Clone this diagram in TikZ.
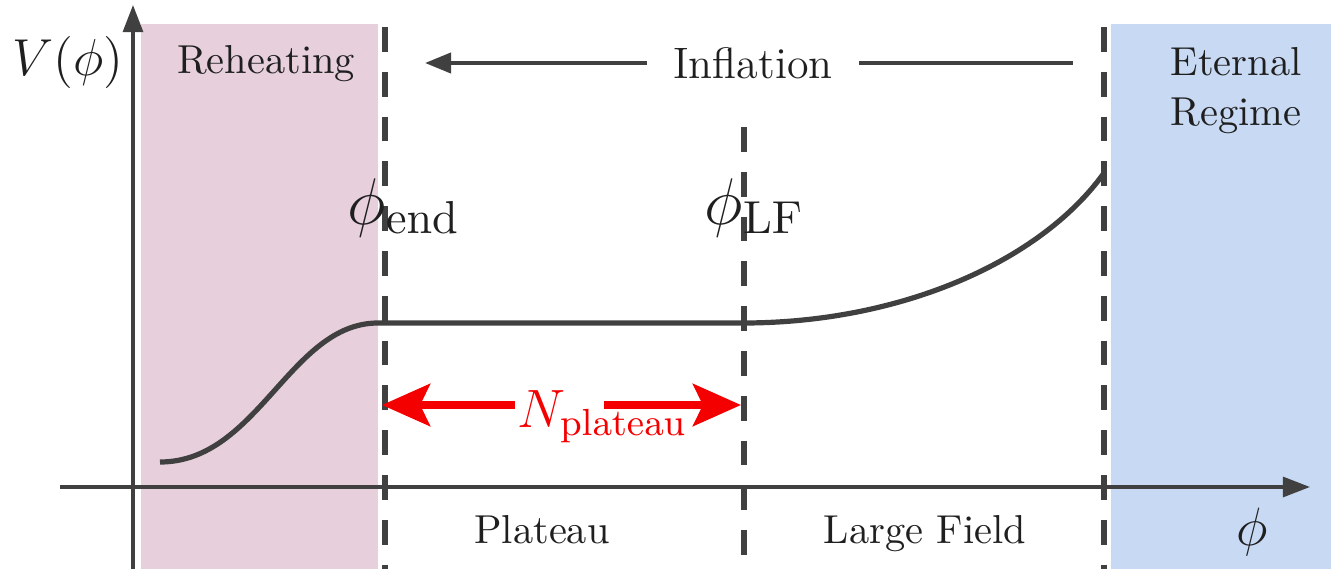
\RequirePackage{fix-cm}
\documentclass[tikz,border=0pt]{standalone}
\usepackage{amsmath,amssymb}
\usepackage{xcolor}
\usetikzlibrary{arrows.meta,calc}

\definecolor{reheatpink}{RGB}{231,208,220}
\definecolor{eternalblue}{RGB}{200,217,243}
\definecolor{axisgray}{RGB}{64,64,64}
\definecolor{plateaured}{RGB}{245,0,0}

\begin{document}
\begin{tikzpicture}[x=0.25pt,y=-0.25pt,line join=round,
  axis/.style={axisgray,line width=0.85pt,-{Triangle[length=6.8pt,width=5pt]}},
  bound/.style={axisgray,line width=1.4pt,dash pattern=on 6.2pt off 5pt},
  potential/.style={axisgray,line width=1.3pt},
  inflline/.style={axisgray,line width=1pt},
  nplarrow/.style={plateaured,line width=2pt,-{Stealth[length=12pt,width=10.5pt,inset=2.5pt]}},
  lbl/.style={inner sep=0pt,text=black!88,font=\fontsize{10.1}{12.5}\selectfont},
  mlbl/.style={inner sep=0pt,text=black!88}]

  \useasboundingbox (0,0) rectangle (1331,569);

  %% ---------------------------------------------------------------
  %% shaded regimes
  %% ---------------------------------------------------------------
  \fill[reheatpink] (141,24) rectangle (378,569);
  \fill[eternalblue] (1111,24) rectangle (1331,569);

  %% ---------------------------------------------------------------
  %% axes
  %% ---------------------------------------------------------------
  \coordinate (yBot) at (133,569);
  \coordinate (yTop) at (133,5);
  \coordinate (xLeft) at (60,487);
  \coordinate (xTip) at (1310,487);
  \draw[axis] (yBot) -- (yTop);
  \draw[axis] (xLeft) -- (xTip);

  % regime boundaries (dashed)
  \coordinate (endTop) at (385,27);
  \coordinate (endBot) at (385,569);
  \coordinate (lfTop) at (744,127);
  \coordinate (lfBot) at (744,569);
  \coordinate (etTop) at (1104,27);
  \coordinate (etBot) at (1104,569);
  \draw[bound] (endTop) -- (endBot);
  \draw[bound] (lfTop) -- (lfBot);
  \draw[bound] (etTop) -- (etBot);

  %% ---------------------------------------------------------------
  %% the potential V(phi)
  %% ---------------------------------------------------------------
  \draw[potential] (160,462) .. controls (258,462) and (290,323) .. (378,323)
    -- (743,323) .. controls (900,323) and (1040,262) .. (1104,173);

  %% ---------------------------------------------------------------
  %% labels
  %% ---------------------------------------------------------------
  \node[mlbl,font=\fontsize{13}{15}\selectfont] (vlab) at (68,62) {$V(\phi)$};
  \node[lbl,anchor=base] (reheat) at (266,73) {Reheating};
  \node[lbl,align=center] (eternal) at (1236,91) {Eternal\\Regime};
  \node[lbl,anchor=base] (plateau) at (542,543) {Plateau};
  \node[lbl,anchor=base] (large) at (925,543) {Large Field};
  \node[mlbl,anchor=base,font=\fontsize{13.5}{16}\selectfont] (philab) at (1252,545) {$\phi$};
  \node[mlbl,anchor=base west,font=\fontsize{16.5}{20}\selectfont] (phiend) at (347,224) {$\phi_{\mathrm{end}}$};
  \node[mlbl,anchor=base west,font=\fontsize{16.5}{20}\selectfont] (philf) at (704,224) {$\phi_{\mathrm{LF}}$};

  % inflation arrow, broken by its label
  \node[lbl,font=\fontsize{11}{13}\selectfont,inner xsep=6.5pt] (infl) at (753,63) {Inflation};
  \coordinate (inflR) at (1073,63);
  \coordinate (inflL) at (425,63);
  \draw[inflline] (infl.east) -- (inflR);
  \draw[inflline,-{Triangle[length=6.5pt,width=5pt]}] (infl.west) -- (inflL);

  % number of e-folds on the plateau
  \node[mlbl,anchor=base west,text=plateaured,font=\fontsize{13.5}{16}\selectfont]
    (npl) at (517,427) {$N_{\mathrm{plateau}}$};
  \coordinate (nplL) at (515,405);
  \coordinate (nplR) at (604,405);
  \coordinate (endArr) at (382,405);
  \coordinate (lfArr) at (741,405);
  \draw[nplarrow] (nplL) -- (endArr);
  \draw[nplarrow] (nplR) -- (lfArr);

\end{tikzpicture}
\end{document}
